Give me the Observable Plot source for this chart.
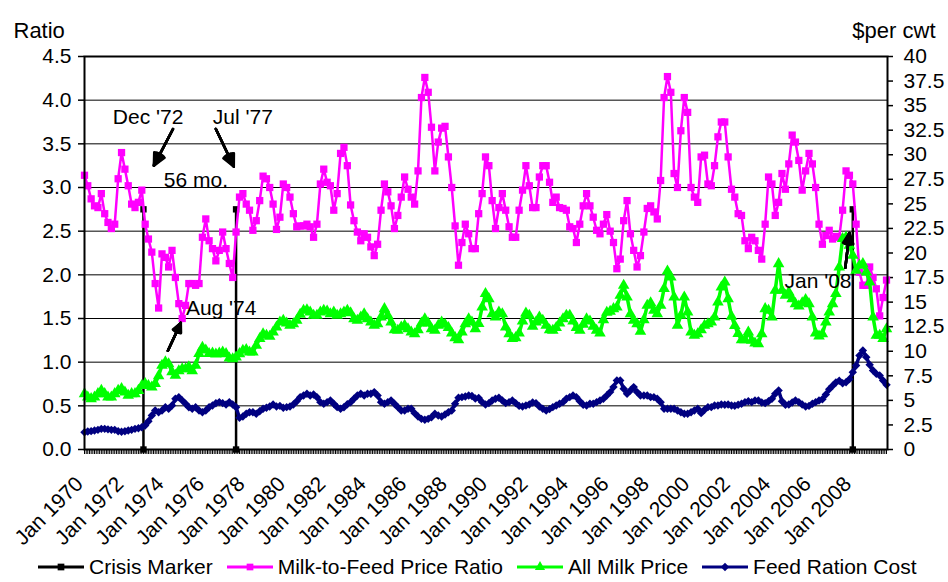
<!DOCTYPE html>
<html>
<head>
<meta charset="utf-8">
<script src="https://cdn.jsdelivr.net/npm/d3@7"></script>
<script src="https://cdn.jsdelivr.net/npm/@observablehq/plot@0.6"></script>
<style>
  html, body { margin: 0; padding: 0; background: #fff; }
  body { width: 948px; height: 582px; overflow: hidden; font-family: "Liberation Sans", Arial, sans-serif; }
  #legend { display: flex; align-items: center; height: 24px; padding-left: 38px; font-size: 21px; color: #000; white-space: nowrap; }
  .item { display: flex; align-items: center; margin-right: 14px; }
  .item svg { margin-right: 5px; }
</style>
</head>
<body>
<div id="chart"></div>
<div id="legend"></div>
<script>
// ---- data (one value every 2 months from Jan 1970) ----
const startYear = 1970;
const stepMonths = 2;

const milkFeedRatio = [
  3.14,3.02,2.87,2.79,2.77,2.93,2.70,2.60,2.53,2.58,
  3.10,3.40,3.21,3.02,2.81,2.77,2.83,2.97,2.58,2.41,
  2.26,1.90,1.62,2.24,2.20,2.09,2.28,1.97,1.67,1.50,
  1.65,1.90,1.90,1.88,1.90,2.43,2.64,2.39,2.30,2.16,
  2.28,2.49,2.30,2.13,1.97,2.49,2.89,2.93,2.81,2.74,
  2.51,2.62,2.85,3.13,3.10,3.00,2.81,2.52,2.66,3.04,
  3.00,2.89,2.70,2.55,2.56,2.56,2.58,2.55,2.43,2.58,
  3.04,3.21,3.06,3.02,2.74,2.93,3.39,3.46,3.25,2.80,
  2.62,2.49,2.39,2.47,2.43,2.32,2.22,2.35,2.74,3.04,
  2.95,2.79,2.53,2.68,2.89,3.12,2.98,2.89,2.81,3.19,
  4.03,4.26,4.09,3.69,3.19,3.52,3.68,3.70,3.35,3.00,
  2.56,2.11,2.37,2.58,2.47,2.30,2.30,2.70,2.93,3.35,
  3.25,2.85,2.53,2.77,2.93,2.74,2.55,2.43,2.43,2.74,
  2.97,3.25,3.02,2.77,2.77,3.12,3.25,3.25,3.06,2.83,
  2.89,2.77,2.76,2.74,2.55,2.53,2.37,2.58,2.79,2.93,
  2.79,2.66,2.51,2.47,2.58,2.69,2.50,2.37,2.07,2.18,
  2.62,2.85,2.47,2.28,2.09,2.22,2.49,2.76,2.79,2.72,
  2.64,3.08,4.03,4.27,4.09,3.16,3.00,3.65,4.03,3.86,
  3.00,2.89,2.83,3.35,3.37,3.04,3.02,3.25,3.58,3.75,
  3.75,3.35,2.98,2.89,2.70,2.68,2.39,2.30,2.43,2.39,
  2.28,2.18,2.58,3.12,3.04,2.68,2.83,3.16,2.98,3.27,
  3.60,3.52,3.31,2.97,3.19,3.39,3.27,3.00,2.58,2.35,
  2.45,2.51,2.41,2.44,2.43,2.74,3.19,3.14,3.04,2.58,
  2.03,1.88,1.88,2.09,1.97,1.84,1.53,1.74,1.94
];

const allMilkPrice = [
  5.67,5.33,5.16,5.33,5.67,6.0,5.67,5.33,5.33,5.67,
  6.0,6.18,5.84,5.5,5.67,5.67,6.0,6.5,6.7,6.5,
  6.35,6.7,7.5,8.55,8.9,8.72,7.9,7.55,8.0,8.2,
  8.2,8.4,8.0,8.55,9.75,10.4,10.1,9.75,9.8,9.7,
  9.8,9.9,9.74,9.3,9.23,9.4,9.74,10.08,10.15,9.9,
  9.9,10.6,11.27,11.77,11.6,11.5,11.94,12.45,12.96,13.13,
  12.86,12.62,12.79,13.13,13.74,14.15,14.2,13.98,13.64,13.64,
  13.98,14.15,14.08,13.81,13.98,13.64,13.81,13.98,14.15,13.9,
  13.3,13.13,13.47,13.81,13.3,12.96,12.62,12.79,13.47,14.32,
  13.64,12.96,12.18,12.11,12.45,12.62,12.28,11.94,11.77,12.18,
  12.86,13.3,12.86,12.28,12.11,12.62,12.96,12.72,12.39,11.84,
  11.37,11.16,11.94,12.79,13.3,12.96,12.28,12.8,14.49,15.85,
  15.34,13.81,13.47,13.98,13.81,12.45,11.77,11.27,11.37,11.84,
  13.06,13.88,13.64,12.52,12.96,13.47,13.13,12.62,12.18,12.11,
  12.39,12.86,13.3,13.64,13.64,13.06,12.39,12.11,12.72,13.3,
  13.06,12.52,12.11,11.85,13.2,13.95,14.05,14.32,14.49,15.68,
  16.7,15.51,13.81,13.13,12.79,12.01,13.2,14.66,14.93,14.15,
  13.81,14.66,16.36,18.15,17.54,15.51,12.62,13.64,15.51,13.98,
  11.94,11.6,11.77,12.18,12.62,12.79,12.96,13.47,15.0,16.53,
  17.03,15.34,13.55,12.6,11.8,11.16,11.16,11.94,11.1,10.82,
  10.76,11.77,14.32,14.15,13.47,16.19,18.9,16.19,15.68,16.02,
  15.34,14.83,14.59,14.93,15.24,14.83,13.47,11.84,11.54,11.77,
  12.96,13.98,14.83,15.85,18.56,21.45,21.6,20.77,19.75,18.22,
  18.73,18.9,18.05,17.03,13.47,11.6,11.6,11.27,12.28
];

const feedRationCost = [
  1.76,1.83,1.87,1.93,2.0,2.1,2.1,2.05,2.0,2.0,
  1.85,1.8,1.85,1.93,2.0,2.1,2.17,2.27,2.44,2.88,
  3.46,3.97,3.8,3.97,4.3,4.14,4.48,5.16,5.33,5.0,
  4.65,4.3,4.14,4.3,3.97,3.8,3.97,4.3,4.48,4.7,
  4.82,4.72,4.58,4.82,4.58,4.3,3.22,3.36,3.63,3.8,
  3.8,3.63,3.9,4.14,4.24,4.38,4.58,4.38,4.44,4.24,
  4.31,4.38,4.58,4.92,5.33,5.5,5.67,5.5,5.6,5.33,
  4.82,4.65,4.82,4.99,4.65,4.31,4.14,4.3,4.6,4.8,
  5.16,5.5,5.67,5.5,5.67,5.67,5.84,5.5,4.82,4.65,
  4.82,4.99,4.65,4.31,3.97,3.97,4.14,4.14,3.7,3.36,
  3.12,3.02,3.12,3.29,3.63,3.46,3.36,3.56,3.8,3.97,
  4.65,5.26,5.33,5.4,5.5,5.45,5.2,5.25,4.82,4.58,
  4.72,4.99,5.16,5.26,4.99,4.72,4.82,4.99,4.72,4.44,
  4.38,4.48,4.58,4.78,4.72,4.38,4.14,3.97,4.11,4.31,
  4.48,4.65,4.82,5.16,5.33,5.5,5.33,4.92,4.55,4.48,
  4.65,4.65,4.82,4.99,5.16,5.5,5.84,6.35,7.02,7.02,
  6.18,5.67,6.0,6.35,5.84,5.5,5.5,5.5,5.33,5.33,
  5.16,4.82,4.14,4.14,4.14,4.14,3.97,3.8,3.63,3.63,
  3.8,3.97,4.14,3.7,4.04,4.31,4.31,4.48,4.48,4.58,
  4.55,4.58,4.48,4.45,4.55,4.65,4.82,4.92,4.82,4.99,
  4.99,4.78,4.72,4.92,5.16,5.67,6.01,4.92,4.55,4.58,
  4.78,4.99,4.82,4.58,4.38,4.44,4.65,4.82,4.99,5.12,
  5.6,6.14,6.48,6.82,6.99,6.75,6.85,7.16,7.87,8.55,
  9.57,10.08,9.4,8.62,8.04,7.7,7.53,7.02,6.58
];

const crisisDates = ["1972-12-01", "1977-07-01", "2008-01-01"];
const crisisLevel = 2.75;

const ratioTicks = [0, 0.5, 1, 1.5, 2, 2.5, 3, 3.5, 4, 4.5];
const dollarTicks = [0, 2.5, 5, 7.5, 10, 12.5, 15, 17.5, 20, 22.5, 25, 27.5, 30, 32.5, 35, 37.5, 40];
const xDomain = ["1970-01-01", "2009-09-19"];

const noteLabels = ["Dec '72", "Jul '77", "56 mo.", "Aug '74", "Jan '08"];
const noteDates  = ["1971-05-28", "1976-05-07", "1973-12-04", "1975-01-07", "2004-08-15"];
const noteRatios = [3.80, 3.80, 3.08, 1.62, 1.93];

const arrowFromDates  = ["1974-05-19", "1976-07-01", "1974-02-15", "2007-08-19"];
const arrowFromRatios = [3.67, 3.67, 1.13, 2.08];
const arrowToDates    = ["1973-06-07", "1977-05-21", "1974-10-07", "2007-11-01"];
const arrowToRatios   = [3.25, 3.24, 1.45, 2.48];

const seriesNames = ["Crisis Marker", "Milk-to-Feed Price Ratio", "All Milk Price", "Feed Ration Cost"];
const seriesColors = ["#000000", "#FF00FF", "#00FF00", "#000080"];

// ---- build tables ----
const ratioPerDollar = 4.5 / 40;
const dateAt = i => new Date(Date.UTC(startYear, i * stepMonths, 1));
const toRows = arr => arr.map((v, i) => ({date: dateAt(i), value: v}));
const ratioRows = toRows(milkFeedRatio);
const milkRows = toRows(allMilkPrice);
const feedRows = toRows(feedRationCost);
const crisisRows = crisisDates.map(d => ({date: new Date(d)}));
const notes = noteLabels.map((t, i) => ({label: t, date: new Date(noteDates[i]), ratio: noteRatios[i]}));
const arrows = arrowFromDates.map((d, i) => ({
  d1: new Date(d), r1: arrowFromRatios[i], d2: new Date(arrowToDates[i]), r2: arrowToRatios[i]
}));
const dollarY = d => d.value * ratioPerDollar;

const font = '"Liberation Sans", Arial, sans-serif';

const arrowMarks = [52, 42, 32, 22, 12].map(a => Plot.arrow(arrows, {
  x1: "d1", y1: "r1", x2: "d2", y2: "r2",
  stroke: "#000", strokeWidth: 2.5, headAngle: a, headLength: 8
}));

const chart = Plot.plot({
  width: 948,
  height: 555,
  marginLeft: 84,
  marginRight: 61,
  marginTop: 56,
  marginBottom: 106,
  style: {fontFamily: font, fontSize: "21px", color: "#000", background: "#fff", overflow: "visible"},
  x: {type: "utc", domain: xDomain.map(d => new Date(d))},
  y: {domain: [0, 4.5]},
  marks: [
    Plot.ruleY(ratioTicks.slice(1, -1), {stroke: "#000", strokeWidth: 1}),
    Plot.axisY(ratioTicks, {anchor: "left", tickSize: 6, tickPadding: 7, tickFormat: d3.format(".1f"), label: null, strokeWidth: 1.5}),
    Plot.axisY(dollarTicks.map(v => v * ratioPerDollar), {
      anchor: "right", tickSize: 5, tickPadding: 11, strokeWidth: 1.5,
      tickFormat: v => String(Math.round(v / ratioPerDollar * 10) / 10), label: null
    }),
    Plot.axisX({ticks: d3.utcMonth.every(1), tickSize: 5, tickFormat: () => "", label: null, strokeWidth: 1}),
    Plot.axisX({ticks: d3.utcYear.every(2), tickSize: 0, tickPadding: 31, dx: -5, tickRotate: -45,
      tickFormat: d3.utcFormat("%b %Y"), label: null}),
    Plot.text(["Ratio"], {frameAnchor: "top-left", dx: -71, dy: -34, textAnchor: "start", fontSize: 22}),
    Plot.text(["$per cwt"], {frameAnchor: "top-right", dx: 48, dy: -34, textAnchor: "end", fontSize: 22}),
    Plot.ruleX(crisisRows, {x: "date", y1: 0, y2: crisisLevel, stroke: "#000", strokeWidth: 2.5}),
    Plot.dot(crisisRows, {x: "date", y: crisisLevel, symbol: "square", fill: "#000", r: 3.6}),
    Plot.dot(crisisRows, {x: "date", y: 0, symbol: "square", fill: "#000", r: 3.6}),
    Plot.line(ratioRows, {x: "date", y: "value", stroke: seriesColors[1], strokeWidth: 2.5}),
    Plot.dot(ratioRows, {x: "date", y: "value", symbol: "square", fill: seriesColors[1], r: 4.1}),
    Plot.line(milkRows, {x: "date", y: dollarY, stroke: seriesColors[2], strokeWidth: 3.5}),
    Plot.dot(milkRows, {x: "date", y: dollarY, symbol: "triangle", fill: seriesColors[2], r: 4.3}),
    Plot.line(feedRows, {x: "date", y: dollarY, stroke: seriesColors[3], strokeWidth: 3.5}),
    Plot.dot(feedRows, {x: "date", y: dollarY, symbol: "diamond2", fill: seriesColors[3], r: 3.8}),
    Plot.frame({stroke: "#000", strokeWidth: 2}),
    ...arrowMarks,
    Plot.text(notes, {x: "date", y: "ratio", text: "label", textAnchor: "start", fill: "#000", fontSize: 21})
  ]
});
document.getElementById("chart").append(chart);

// ---- legend ----
const legend = d3.select("#legend");
const symbols = [d3.symbolSquare, d3.symbolSquare, d3.symbolTriangle, d3.symbolDiamond2];
seriesNames.forEach((name, i) => {
  const item = legend.append("div").attr("class", "item");
  const svg = item.append("svg").attr("width", 46).attr("height", 14);
  svg.append("line").attr("x1", 0).attr("x2", 46).attr("y1", 7).attr("y2", 7)
    .attr("stroke", seriesColors[i]).attr("stroke-width", 3);
  svg.append("path").attr("transform", "translate(23,7)")
    .attr("d", d3.symbol(symbols[i], 45)()).attr("fill", seriesColors[i]);
  item.append("span").text(name);
});
</script>
</body>
</html>
